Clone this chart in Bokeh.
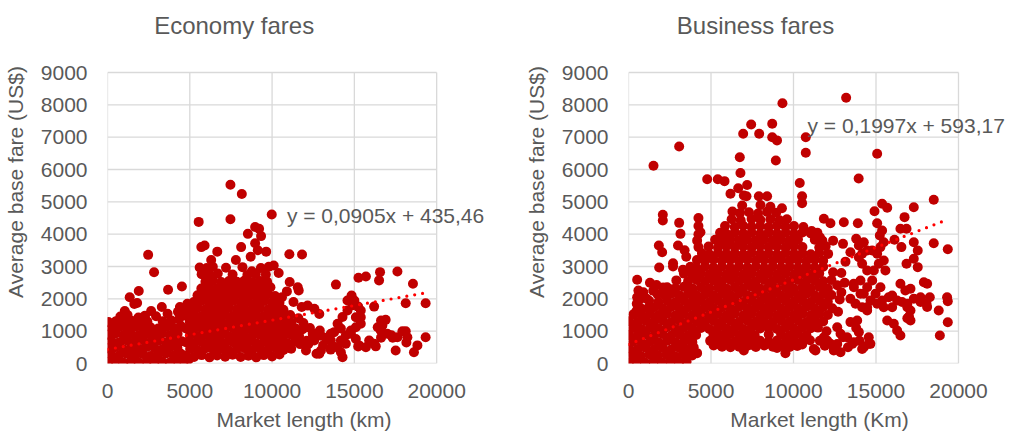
from bokeh.plotting import figure
from bokeh.layouts import row
from bokeh.models import Label, FixedTicker, Range1d
from bokeh.embed import file_html
from bokeh.resources import INLINE

# ---------------- data ----------------
x_ticks = [0, 5000, 10000, 15000, 20000]
y_ticks = [0, 1000, 2000, 3000, 4000, 5000, 6000, 7000, 8000, 9000]
x_max, y_max = 20000, 9000

eco_title = "Economy fares"
bus_title = "Business fares"
eco_xlabel = "Market length (km)"
bus_xlabel = "Market length (Km)"
ylabel = "Average base fare (US$)"

eco_slope, eco_intercept = 0.0905, 435.46
bus_slope, bus_intercept = 0.1997, 593.17
eco_equation = "y = 0,0905x + 435,46"
bus_equation = "y = 0,1997x + 593,17"
trend_x_end = 19400

# Economy: short-haul block (km, US$)
eco_short = [
    (30, 40), (470, 90), (960, 30), (1420, 70), (1900, 20), (2390, 80), (2840, 40), (3320, 60), (3790, 30), (4230, 110),
    (220, 280), (700, 240), (1180, 300), (1650, 250), (2130, 290), (2600, 230), (3080, 270), (3560, 310), (4020, 250), (4460, 300),
    (40, 470), (480, 500), (950, 450), (1430, 490), (1890, 460), (2380, 510), (2860, 470), (3330, 440), (3800, 500), (4250, 480),
    (230, 700), (720, 660), (1190, 710), (1660, 680), (2140, 720), (2620, 670), (3090, 700), (3570, 660), (4030, 720), (4500, 690),
    (30, 890), (490, 930), (960, 880), (1410, 910), (1900, 870), (2370, 920), (2850, 890), (3320, 930), (3790, 880), (4260, 920),
    (250, 1100), (710, 1140), (1170, 1090), (1650, 1130), (2120, 1090), (2610, 1120), (3080, 1080), (3550, 1130), (4040, 1100), (4480, 1150),
    (60, 1280), (520, 1310), (1000, 1290), (1450, 1320), (1950, 1260), (2420, 1300), (3350, 1310), (3880, 1330), (4330, 1360),
    (780, 1450), (1220, 1500), (1880, 1420), (2280, 1480), (2950, 1460), (3650, 1540), (4280, 1600), (4560, 1480), (2650, 1620), (3300, 1750),
    (1050, 1620), (1350, 2050), (1630, 1840), (1800, 1870), (1900, 2240), (2470, 3360), (2830, 2820), (3680, 2280), (4520, 2380),
    (4650, 80), (4400, 1750), (4600, 1700),
]

# Economy: medium-haul block
eco_mid = [
    (4950, 130), (4850, 1850),
    (4780, 240), (5260, 200), (5720, 260), (6200, 190), (6660, 250), (7150, 210), (7600, 270), (8090, 200), (8560, 240), (9040, 190), (9490, 260), (10000, 220), (10450, 280),
    (5020, 450), (5480, 420), (5960, 470), (6430, 430), (6910, 460), (7360, 410), (7860, 450), (8330, 470), (8790, 420), (9280, 460), (9760, 430), (10230, 470), (10700, 420), (11160, 460),
    (4760, 660), (5240, 630), (5700, 670), (6190, 640), (6650, 680), (7140, 630), (7620, 660), (8070, 640), (8570, 670), (9020, 630), (9520, 670), (9970, 640), (10470, 660), (10920, 630), (11400, 680),
    (5010, 870), (5480, 840), (5940, 880), (6430, 850), (6890, 870), (7380, 840), (7840, 880), (8330, 860), (8790, 840), (9280, 880), (9740, 850), (10230, 870), (10690, 840), (11180, 880), (11640, 850),
    (4770, 1080), (5220, 1050), (5720, 1090), (6170, 1060), (6670, 1080), (7120, 1050), (7620, 1090), (8070, 1060), (8570, 1080), (9020, 1050), (9520, 1090), (9970, 1060), (10470, 1080), (10920, 1050), (11410, 1090), (11860, 1060),
    (5000, 1290), (5460, 1260), (5960, 1300), (6410, 1270), (6910, 1290), (7360, 1260), (7860, 1300), (8310, 1270), (8810, 1290), (9260, 1260), (9760, 1300), (10210, 1270), (10710, 1290), (11160, 1260),
    (4760, 1480), (5240, 1510), (5700, 1470), (6190, 1500), (6650, 1480), (7140, 1510), (7600, 1470), (8090, 1500), (8550, 1480), (9040, 1510), (9500, 1470), (9990, 1500), (10450, 1490), (10940, 1460),
    (5010, 1690), (5460, 1720), (5960, 1680), (6410, 1710), (6910, 1690), (7360, 1720), (7860, 1680), (8310, 1710), (8810, 1690), (9260, 1720), (9760, 1680), (10210, 1710), (10690, 1660),
    (5240, 1900), (5700, 1930), (6190, 1890), (6650, 1920), (7140, 1900), (7600, 1930), (8090, 1890), (8550, 1920), (9040, 1900), (9500, 1930), (9990, 1890), (10450, 1880),
    (5470, 2110), (5960, 2140), (6410, 2100), (6910, 2130), (7360, 2110), (7860, 2140), (8310, 2100), (8810, 2130), (9260, 2110), (9760, 2140), (10180, 2090),
    (5700, 2320), (6190, 2350), (6650, 2310), (7140, 2340), (7600, 2320), (8090, 2350), (8550, 2310), (9040, 2340), (9500, 2320), (9900, 2360),
    (5950, 2530), (6410, 2560), (6910, 2520), (7380, 2550), (7860, 2530), (8310, 2560), (8810, 2520), (9260, 2550), (9700, 2530),
    (5720, 2760), (6200, 2740), (6700, 2780), (7600, 2750), (8500, 2740), (9010, 2770), (9620, 2750),
    (5600, 2970), (6030, 2950), (6400, 2990), (7200, 2960), (8200, 2980), (9320, 2950), (9800, 2990),
]

# Economy: isolated high fares around the medium-haul block
eco_high = [
    (7470, 5530), (8160, 5240), (9980, 4610), (5540, 4380), (7470, 4460), (8970, 4220), (9210, 4170), (8530, 4010), (9330, 3940),
    (5900, 3650), (5700, 3600), (8120, 3600), (8970, 3720), (9640, 3460), (9130, 3500), (6670, 3460), (11050, 3380), (11820, 3370),
    (10100, 3030), (10400, 2800), (8770, 2850), (6300, 3200), (7800, 3200), (8700, 3300), (11070, 2520), (11560, 2360), (11620, 2260),
    (10900, 2230), (10600, 2050), (11300, 1900), (11800, 1750), (12160, 1790), (12570, 1690), (12870, 1530), (11100, 1500), (11600, 1400),
    (11900, 1250), (12300, 1100), (12600, 900), (12100, 700), (11700, 600),
]

# Economy: long-haul markets
eco_long = [
    (12560, 710), (12970, 400), (13370, 760), (13570, 920), (13780, 510), (12900, 1020), (12500, 870), (12200, 600), (12700, 300), (13100, 560),
    (13980, 1230), (14280, 1440), (14580, 1640), (13880, 2440), (15250, 2650), (15700, 2690), (16560, 2825), (16500, 2570), (17615, 2845),
    (18560, 2465), (19330, 1866), (18120, 1866), (14830, 2100), (15000, 1950), (14900, 1800), (15230, 1760), (16200, 1760), (15390, 1640),
    (15090, 1430), (15390, 1230), (15090, 1120), (14790, 1020), (14480, 870), (14180, 710), (13980, 505), (14180, 350), (14480, 610),
    (15090, 760), (14790, 920), (15390, 1430), (16700, 1175), (16900, 1350), (16600, 1020), (18120, 1000), (17920, 1000), (17250, 870),
    (17000, 920), (17615, 810), (18220, 810), (18830, 560), (19330, 810), (18620, 350), (17510, 400), (16200, 610), (15900, 710),
    (15700, 505), (15290, 560), (12870, 300), (14280, 195), (14580, 1950), (14180, 1080), (13770, 970), (16300, 530), (16620, 800),
    (17330, 800), (18160, 650), (16620, 1330), (16420, 1120), (12470, 920), (12970, 860), (13270, 800), (13570, 710), (12060, 402),
    (13660, 530), (13560, 430), (15230, 525),
]

# Business: short-haul block
bus_short = [
    (20, 30), (490, 70), (1010, 20), (1520, 60), (2040, 30), (2560, 80), (3070, 40), (3520, 60),
    (260, 260), (770, 230), (1280, 280), (1800, 240), (2310, 270), (2830, 220), (3340, 280), (3860, 250), (4160, 320),
    (525, 2590), (600, 2260), (525, 2050), (500, 1850), (500, 1640), (1300, 2500), (1700, 2430), (2100, 2350), (2500, 2300), (2700, 2280),
    (3000, 3650), (3400, 3500), (3500, 3300), (2700, 3100), (2700, 3000), (3300, 2900), (3700, 2850), (4000, 2800), (4240, 4500),
    (4240, 4250), (4240, 4000), (4240, 3600), (4500, 3300), (1840, 3650), (2040, 3440), (1860, 2970), (2080, 4600), (2080, 4420),
    (3070, 4350), (3150, 4010), (4360, 4060), (4160, 3800), (900, 2200), (1100, 2000), (700, 2000), (1500, 2250),
]

# Business: main block
bus_main = [
    (30, 470), (540, 440), (1050, 490), (1560, 450), (2080, 480), (2590, 430), (3100, 470), (3610, 450), (3950, 500), (5160, 560), (5670, 520), (6180, 560), (6700, 520), (7210, 550), (7720, 510), (8230, 560), (8750, 520), (9260, 550), (9770, 510), (10230, 540),
    (280, 680), (790, 650), (1310, 690), (1820, 660), (2340, 700), (2850, 650), (3360, 690), (3870, 660), (4950, 700), (5420, 670), (5930, 710), (6440, 680), (6960, 700), (7470, 660), (7980, 700), (8490, 680), (9000, 710), (9520, 670), (10030, 700), (10540, 680), (11000, 720),
    (30, 890), (540, 860), (1050, 900), (1560, 870), (2080, 910), (2590, 860), (3100, 900), (3610, 870), (4100, 880), (5150, 900), (5660, 870), (6170, 910), (6690, 880), (7200, 900), (7650, 870), (8500, 900), (9250, 900), (9760, 870), (10270, 910), (10780, 880),
    (280, 1100), (790, 1070), (1310, 1110), (1820, 1080), (2340, 1120), (2850, 1070), (3360, 1110), (3870, 1080), (4390, 1100), (4900, 1070), (5420, 1110), (5930, 1080), (6440, 1120), (6950, 1070), (7460, 1110), (7980, 1080), (8490, 1100), (9000, 1070), (9520, 1110), (10030, 1080), (10540, 1120), (11050, 1090), (11480, 1110),
    (30, 1310), (540, 1280), (1050, 1320), (1560, 1290), (2080, 1330), (2590, 1280), (3100, 1320), (3610, 1290), (4120, 1310), (4640, 1280), (5150, 1320), (5660, 1290), (6170, 1330), (6690, 1280), (7200, 1320), (7710, 1290), (8220, 1310), (8740, 1280), (9250, 1320), (9760, 1290), (10270, 1330), (10780, 1280), (11290, 1320), (11800, 1300),
    (300, 1520), (800, 1490), (1310, 1530), (1820, 1500), (2340, 1540), (2850, 1490), (3360, 1530), (3870, 1500), (4390, 1520), (4900, 1490), (5420, 1530), (5930, 1500), (6440, 1540), (6950, 1490), (7460, 1530), (7980, 1500), (8490, 1520), (9000, 1490), (9520, 1530), (10030, 1500), (10540, 1540), (11050, 1490), (11560, 1530), (12080, 1500), (12700, 1600),
    (700, 1730), (1150, 1700), (1560, 1740), (2080, 1710), (2590, 1750), (3100, 1700), (3610, 1740), (4120, 1710), (4640, 1730), (5150, 1700), (5660, 1740), (6170, 1710), (6690, 1750), (7200, 1700), (7710, 1740), (8220, 1710), (8740, 1730), (9250, 1700), (9760, 1740), (10270, 1710), (10780, 1750), (11290, 1700), (11800, 1740), (12350, 1710),
    (1250, 1940), (1820, 1910), (2340, 1950), (2850, 1900), (3360, 1940), (3870, 1910), (4390, 1930), (4900, 1900), (5420, 1940), (5930, 1910), (6440, 1950), (6950, 1900), (7460, 1940), (7980, 1910), (8490, 1930), (9000, 1900), (9520, 1940), (10030, 1910), (10540, 1950), (11050, 1900), (11560, 1940), (12080, 1910), (12800, 1980),
    (1750, 2150), (2200, 2120), (2590, 2160), (3100, 2110), (3610, 2150), (4120, 2120), (4640, 2140), (5150, 2110), (5660, 2150), (6170, 2120), (6690, 2160), (7200, 2110), (7710, 2150), (8220, 2120), (8740, 2140), (9250, 2110), (9760, 2150), (10270, 2120), (10780, 2160), (11290, 2110), (11800, 2150), (12300, 2120),
    (2340, 2360), (2850, 2330), (3360, 2370), (3870, 2320), (4390, 2360), (4900, 2330), (5420, 2350), (5930, 2320), (6440, 2360), (6950, 2330), (7460, 2370), (7980, 2320), (8490, 2360), (9000, 2330), (9520, 2350), (10030, 2320), (10540, 2360), (11050, 2330), (11560, 2370), (12080, 2320), (12650, 2420),
    (2900, 2570), (3610, 2540), (4120, 2580), (4640, 2550), (5150, 2570), (5660, 2540), (6170, 2580), (6690, 2550), (7200, 2570), (7710, 2540), (8220, 2580), (8740, 2550), (9250, 2570), (9760, 2540), (10270, 2580), (10780, 2550), (11290, 2570), (11800, 2540), (12300, 2580),
    (3360, 2780), (3870, 2750), (4390, 2790), (4900, 2760), (5420, 2780), (5930, 2750), (6440, 2790), (6950, 2760), (7460, 2780), (7980, 2750), (8490, 2790), (9000, 2760), (9520, 2780), (10030, 2750), (10540, 2790), (11050, 2760), (11560, 2780), (12400, 2820),
    (3750, 2990), (4120, 2960), (4640, 3000), (5150, 2970), (5660, 2990), (6170, 2960), (6690, 3000), (7200, 2970), (7710, 2990), (8220, 2960), (8740, 3000), (9250, 2970), (9760, 2990), (10270, 2960), (10780, 3000), (11290, 2970), (11800, 2990),
    (4150, 3200), (4640, 3170), (5150, 3210), (5660, 3180), (6170, 3200), (6690, 3170), (7200, 3210), (7710, 3180), (8220, 3200), (8740, 3170), (9250, 3210), (9760, 3180), (10270, 3200), (10780, 3170), (11290, 3210), (11800, 3180),
    (4450, 3410), (4900, 3380), (5420, 3420), (5930, 3390), (6440, 3410), (6950, 3380), (7460, 3420), (7980, 3390), (8490, 3410), (9000, 3380), (9520, 3420), (10030, 3390), (10540, 3410), (11050, 3380), (11560, 3420), (12100, 3390),
    (4850, 3620), (5420, 3590), (5930, 3630), (6440, 3600), (6950, 3620), (7460, 3590), (7980, 3630), (8490, 3600), (9000, 3620), (9520, 3590), (10030, 3630), (10540, 3600), (11560, 3590), (11950, 3630),
    (5250, 3830), (5660, 3800), (6170, 3840), (6690, 3810), (7200, 3830), (7710, 3800), (8220, 3840), (8740, 3810), (9250, 3830), (9760, 3800), (10270, 3840), (11290, 3830), (11750, 3800),
    (5550, 4040), (5930, 4010), (6440, 4050), (6950, 4020), (7460, 4040), (7980, 4010), (8490, 4050), (9000, 4020), (9520, 4040), (10030, 4010), (10540, 4050), (11050, 4020), (11450, 4040),
    (5850, 4250), (6440, 4220), (6950, 4260), (7460, 4230), (7980, 4250), (8490, 4220), (9000, 4260), (9520, 4230), (10030, 4250), (10600, 4220),
    (6250, 4460), (6800, 4430), (7460, 4470), (8000, 4440), (8600, 4460), (9150, 4430), (9600, 4460),
    (6750, 4650), (7300, 4680), (7850, 4640), (8400, 4690), (8950, 4660),
]

# Business: isolated high fares and low fares around the main block
bus_scatter = [
    (7150, 5170), (7900, 5170), (8400, 5170), (6180, 5250), (7190, 5520), (6650, 5420), (4770, 5700), (5410, 5700), (5820, 5640),
    (6785, 5890), (6745, 6380), (8930, 6280), (10380, 5580), (10520, 5170), (10520, 4960), (6950, 7105), (7920, 7105), (8710, 7000),
    (9000, 6900), (7435, 7390), (8710, 7413), (9330, 8050), (13190, 8217), (10745, 7000), (10745, 6517), (3070, 6712), (1515, 6115),
    (15070, 6486), (13950, 5720), (11840, 4475), (12240, 4340), (13050, 4370), (6990, 5196), (6890, 4887), (8000, 4900), (8600, 4850),
    (9300, 4800), (6300, 4700), (11100, 4100), (11600, 3900), (12400, 3800), (13000, 3700),
    (6180, 505), (6990, 400), (9510, 320), (10525, 590), (11330, 400), (5600, 560), (7600, 560), (8300, 600), (9000, 480),
]

# Business: long-haul markets
bus_long = [
    (11230, 450), (11840, 810), (12240, 610), (12650, 600), (12850, 350), (13560, 608), (13960, 970), (14560, 810), (14560, 608),
    (14160, 450), (12650, 1120), (13450, 1280), (11230, 1200), (10600, 1200), (12000, 1000), (13000, 810), (13300, 500), (14000, 700),
    (12450, 450), (11600, 700), (11900, 550), (13800, 1100), (12850, 918), (12440, 402), (12040, 711),
    (18500, 5063), (17290, 4835), (15370, 4940), (15680, 4816), (14910, 4710), (13900, 4340), (15070, 4340), (16730, 4526),
    (16480, 4165), (16850, 4165), (15370, 4113), (15230, 3960), (16120, 3825), (16540, 3600), (17290, 3750), (17530, 3495),
    (18500, 3720), (19350, 3535), (17290, 3238), (16850, 3083), (17530, 2980), (17900, 2515), (18100, 2465), (19310, 2050),
    (19350, 1927), (18260, 2050), (18800, 1640), (19350, 1278), (18870, 866), (18100, 1750),
    (16480, 2465), (16780, 2258), (17090, 2310), (17290, 2000), (16900, 1846), (16580, 1900), (16280, 1950), (15980, 2100),
    (16900, 1740), (17090, 1640), (17000, 1454), (17700, 2050), (18060, 1850), (17700, 1900),
    (15680, 1330), (16080, 1230), (16280, 1020), (16480, 866), (16900, 1400), (17090, 1330),
    (13960, 3288), (14160, 3083), (14465, 2877), (14060, 2567), (14465, 2360), (14770, 2567), (14870, 2877), (15170, 3083),
    (15470, 3185), (15570, 2877), (15270, 2360), (14970, 2155), (15370, 1950), (15770, 2050), (14670, 1950), (14260, 2155),
    (13660, 2360), (13450, 2000), (13760, 1846), (14160, 1740), (14465, 1640), (15070, 1846), (15470, 1740), (15980, 1740),
    (13800, 3856), (14260, 3750), (14465, 3495), (14160, 3393), (13960, 3650), (14770, 3495), (15070, 3393), (15270, 3600), (15470, 3750),
    (13650, 2465), (14060, 2155), (14460, 1740), (13860, 1330), (13250, 814), (13650, 660), (14260, 505), (14660, 608),
    (13150, 3150), (13450, 3440), (12900, 2800), (13100, 2500), (12900, 2200),
]

# ---------------- layout / styling constants ----------------
DOT = "#c00000"
TREND = "#ff0000"
GRID = "#d9d9d9"
TEXT = "#595959"
FONT = "Liberation Sans"
FIG_H = 434
BORDER_BOTTOM = 71
PLOT_TOP_PX = 72                 # top of the 0..9000 plot area, from the top of the figure
PX_PER_KM = 330 / 20000.0        # 330 px spans 0..20000 km
PX_PER_USD = 291 / 9000.0        # 291 px spans 0..9000 US$
TITLE_CENTER_PX = (127, 25)      # title centre relative to plot-area left edge / figure top


def panel(title, groups, slope, intercept, xlabel, eq_text, eq_pos,
          width, b_left, b_right):
    frame_w = width - b_left - b_right
    frame_h = FIG_H - BORDER_BOTTOM
    p = figure(width=width, height=FIG_H, output_backend="svg", toolbar_location=None,
               x_range=Range1d(0, frame_w / PX_PER_KM), y_range=Range1d(0, frame_h / PX_PER_USD),
               min_border_left=b_left, min_border_right=b_right,
               min_border_top=0, min_border_bottom=BORDER_BOTTOM)
    p.background_fill_color = "white"
    p.border_fill_color = "white"
    p.outline_line_color = None

    p.xaxis.ticker = FixedTicker(ticks=x_ticks)
    p.yaxis.ticker = FixedTicker(ticks=y_ticks)
    p.xaxis.bounds = (0, x_max)
    p.yaxis.bounds = (0, y_max)
    for ax in (p.xaxis, p.yaxis):
        ax.major_tick_line_color = None
        ax.minor_tick_line_color = None
        ax.major_tick_out = 0
        ax.major_tick_in = 0
        ax.axis_line_color = None
        ax.major_label_text_font = FONT
        ax.major_label_text_font_size = "21px"
        ax.major_label_text_color = TEXT
        ax.axis_label_text_font = FONT
        ax.axis_label_text_font_size = "21px"
        ax.axis_label_text_font_style = "normal"
        ax.axis_label_text_color = TEXT
    p.xaxis.axis_label = xlabel
    p.yaxis.axis_label = ylabel
    p.xaxis.major_label_standoff = 20
    p.xaxis.axis_label_standoff = 7
    p.yaxis.major_label_standoff = 20
    p.yaxis.axis_label_standoff = 11

    # plot-area grid limited to 0..20000 km and 0..9000 US$
    p.xgrid.grid_line_color = None
    p.ygrid.grid_line_color = None
    p.segment(x0=[0] * len(y_ticks), y0=y_ticks, x1=[x_max] * len(y_ticks), y1=y_ticks,
              line_color=GRID, line_width=1.3, level="underlay")
    p.segment(x0=x_ticks, y0=[0] * len(x_ticks), x1=x_ticks, y1=[y_max] * len(x_ticks),
              line_color=GRID, line_width=1.3, level="underlay")

    xs, ys = [], []
    for g in groups:
        xs += [pt[0] for pt in g]
        ys += [pt[1] for pt in g]
    p.scatter(xs, ys, size=10, fill_color=DOT, line_color=None)

    p.line([0, trend_x_end], [intercept, intercept + slope * trend_x_end],
           line_color=TREND, line_width=3.2, line_dash="0 8", line_cap="round")

    p.add_layout(Label(x=eq_pos[0], y=eq_pos[1], text=eq_text, text_font=FONT,
                       text_font_size="21px", text_color=TEXT,
                       text_align="left", text_baseline="middle"))

    # chart title, centred above the plot area like the original
    p.add_layout(Label(x=TITLE_CENTER_PX[0] / PX_PER_KM,
                       y=y_max + (PLOT_TOP_PX - TITLE_CENTER_PX[1]) / PX_PER_USD,
                       text=title, text_font=FONT, text_font_size="24px",
                       text_color=TEXT, text_align="center", text_baseline="middle"))
    return p


p1 = panel(eco_title, [eco_short, eco_mid, eco_high, eco_long], eco_slope, eco_intercept,
           eco_xlabel, eco_equation, (10900, 4580), 505, 106, 5)
p2 = panel(bus_title, [bus_short, bus_main, bus_scatter, bus_long], bus_slope, bus_intercept,
           bus_xlabel, bus_equation, (10850, 7360), 505, 123, 0)

layout = row(p1, p2)
open("out.html", "w").write(file_html(layout, INLINE))
